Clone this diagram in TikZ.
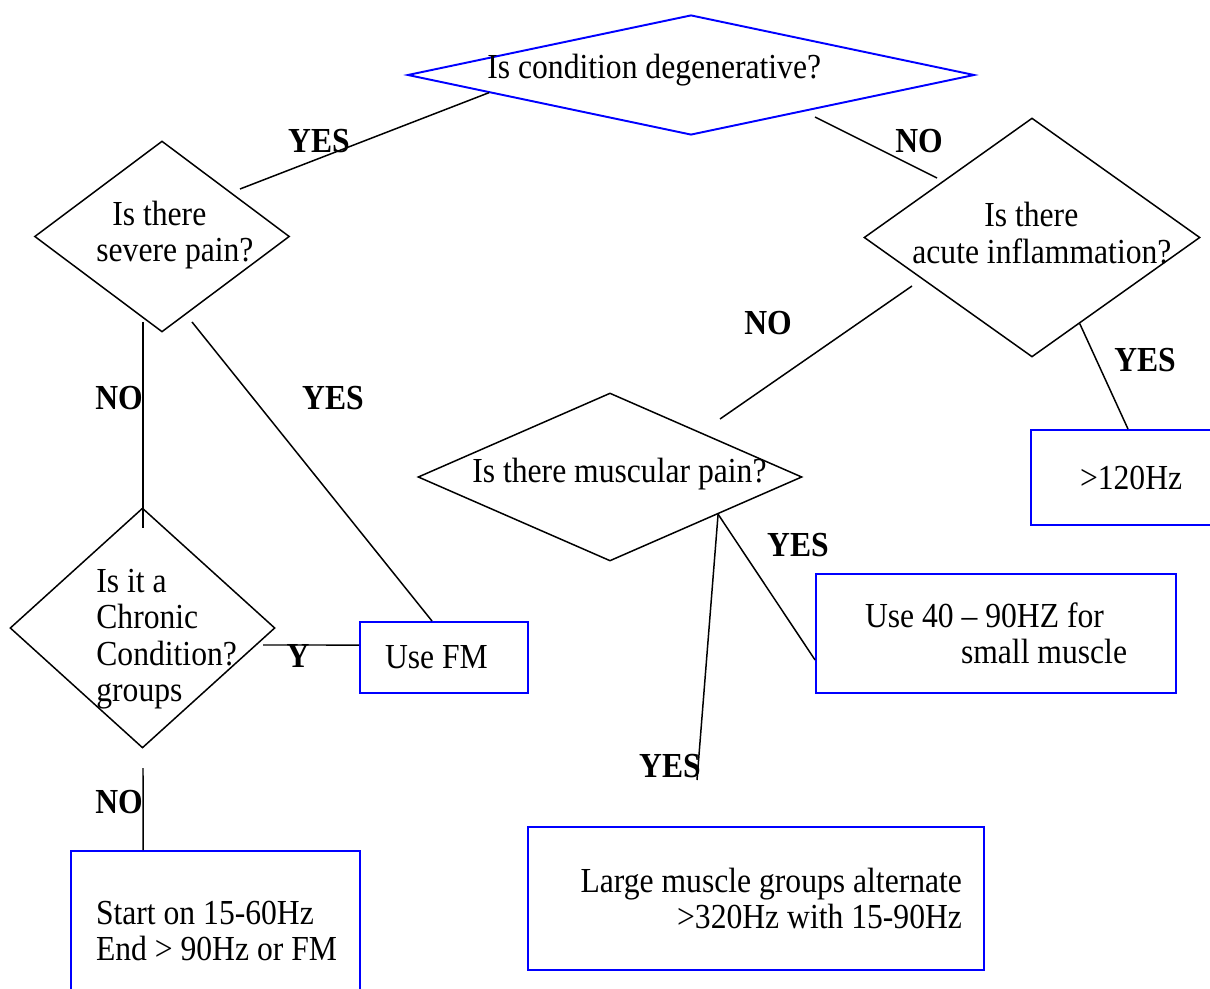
\documentclass[tikz,border=0pt]{standalone}
\usepackage{fontspec}
\setmainfont{Liberation Serif}[FakeStretch=0.9]
\usetikzlibrary{shapes.geometric,positioning,calc}

\begin{document}
\begin{tikzpicture}[
    x=0.02cm, y=-0.02cm,
    font=\fontsize{20}{20.8}\selectfont,
    dia/.style={
        draw=black,
        diamond,
        line width=0.85pt,
        inner sep=0pt
    },
    bluedia/.style={
        dia,
        draw=blue,
        line width=1.1pt
    },
    box/.style={
        draw=blue,
        rectangle,
        line width=1.1pt,
        inner sep=0pt,
        align=flush left
    },
    txt/.style={
        inner sep=0pt,
        anchor=west,
        align=left
    },
    ans/.style={
        font=\fontsize{20}{20.8}\selectfont\bfseries,
        inner sep=0pt
    },
    ln/.style={line width=0.85pt}
]
\useasboundingbox (0,0) rectangle (1210,989);

% decision diamonds
\node[bluedia, minimum width=11.34cm, minimum height=2.4cm] (degen) at (691,75) {};
\node[dia, minimum width=5.1cm, minimum height=3.82cm] (pain) at (162,236.5) {};
\node[dia, minimum width=6.72cm, minimum height=4.78cm] (infl) at (1032,237.5) {};
\node[dia, minimum width=7.68cm, minimum height=3.36cm] (musc) at (610,477) {};
\node[dia, minimum width=5.3cm, minimum height=4.8cm] (chron) at (142.5,628) {};

% questions
\node[txt] (degenq) at (487,70) {Is condition degenerative?};
\node[txt] (painq) at (96,235) {\hspace*{0.32cm}Is there\\severe pain?};
\node[txt] (inflq) at (912,233) {\hspace*{1.44cm}Is there\\acute inflammation?};
\node[txt] (muscq) at (472,474) {Is there muscular pain?};
\node[txt] (chronq) at (96,639) {Is it a\\Chronic\\Condition?\\groups};

% result boxes
\node[box, minimum width=4.18cm, minimum height=1.9cm, text width=4.18cm]
      (hiz) at (1135.5,477.5) {\hspace*{0.98cm}>120Hz};
\node[box, minimum width=7.2cm, minimum height=2.38cm, text width=7.2cm]
      (smallbox) at (996,633.5)
      {\hspace*{0.98cm}Use 40 – 90HZ for\\\hspace*{2.9cm}small muscle};
\node[box, minimum width=3.36cm, minimum height=1.42cm, text width=3.36cm]
      (usefm) at (444,657.5) {\hspace*{0.5cm}Use FM};
\node[box, minimum width=5.78cm, minimum height=3.2cm, text width=5.78cm]
      (startbox) at (215.5,931)
      {\hspace*{0.5cm}Start on 15-60Hz\\\hspace*{0.5cm}End > 90Hz or FM};
\node[box, minimum width=9.12cm, minimum height=2.86cm, inner xsep=0.44cm,
      text width=8.24cm, align=flush right] (largebox) at (756,898.5)
      {Large muscle groups alternate\\>320Hz with 15-90Hz};

% loose line ends
\coordinate (degYes) at (240,189);
\coordinate (degNo) at (815,117);
\coordinate (inflIn) at (937,178);
\coordinate (painNoA) at (143,322);
\coordinate (painNoB) at (143,528);
\coordinate (painYes) at (192,322);
\coordinate (chronY) at (263,645);
\coordinate (chronNo) at (143,768);
\coordinate (inflNo) at (912,286);
\coordinate (muscIn) at (720,419);
\coordinate (largeEnd) at (697,780);

% connectors
\draw[ln] (degen.185) -- (degYes);
\draw[ln] (degNo) -- (inflIn);
\draw[ln] (painNoA) -- (painNoB);
\draw[ln] (painYes) -- ([xshift=-0.24cm]usefm.north);
\draw[ln] (chronY) -- ([yshift=0.25cm]usefm.west);
\draw[ln] (chronNo) -- ([xshift=-1.45cm]startbox.north);
\draw[ln] (inflNo) -- (muscIn);
\draw[ln] (infl.299.5) -- ([xshift=-0.15cm]hiz.north);
\draw[ln] (musc.341.9) -- ([yshift=-0.53cm]smallbox.west);
\draw[ln] (musc.341.9) -- (largeEnd);

% answers
\node[ans] (yesA) at (319,141) {YES};
\node[ans] (noA) at (919,141) {NO};
\node[ans] (noB) at (119,398) {NO};
\node[ans] (yesB) at (333,398) {YES};
\node[ans] (yC) at (298,656) {Y};
\node[ans] (noC) at (119,802) {NO};
\node[ans] (noD) at (768,323) {NO};
\node[ans] (yesD) at (1145,360) {YES};
\node[ans] (yesE) at (798,545) {YES};
\node[ans] (yesF) at (670,766) {YES};

\end{tikzpicture}
\end{document}
